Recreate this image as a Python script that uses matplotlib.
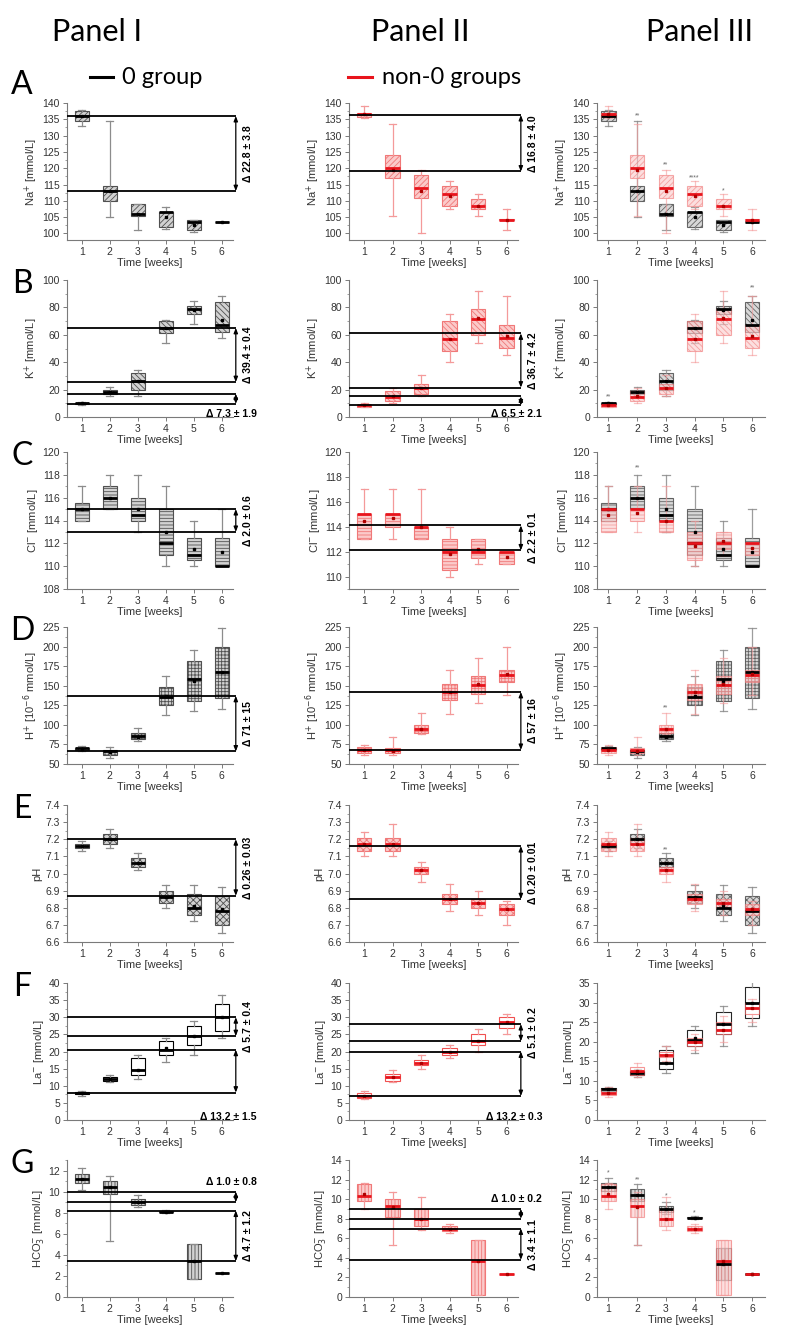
import matplotlib.pyplot as plt
from matplotlib.ticker import MultipleLocator, AutoMinorLocator

plt.rcParams['font.family'] = ['Liberation Sans', 'DejaVu Sans']
plt.rcParams['hatch.linewidth'] = 0.6

weeks = [1, 2, 3, 4, 5, 6]

# every box: (whislo, q1, median, q3, whishi, mean)
na_zero = [(133, 134.5, 136, 137.5, 138, 136), (105, 110, 113, 114.5, 134.5, 113),
           (101, 105.5, 106, 109, 109, 106), (101.5, 102, 106.5, 106.5, 108, 105),
           (100.5, 101, 103.5, 104, 104, 102.5), (103.5, 103.5, 103.5, 103.5, 103.5, 103.5)]
na_non0 = [(135.5, 135.8, 136.5, 137, 139, 136.5), (105.5, 117, 120, 124, 133.5, 119.5),
           (100, 111, 114, 118, 119.5, 113), (107.5, 108.5, 112, 114.5, 116, 111.5),
           (105.5, 107.5, 108.5, 110.5, 112, 108.5), (101, 104, 104, 104.3, 107.5, 104)]
k_zero = [(9, 9.5, 10, 10.5, 11, 10), (15, 17, 18, 20, 22, 18), (15, 20, 26, 32, 34, 26),
          (54, 61, 65, 70, 71, 65), (68, 75, 79, 81, 85, 78), (58, 62, 67, 84, 88, 71)]
k_non0 = [(7, 7.5, 8.5, 9, 10, 8.5), (10, 12, 14.5, 19, 21, 15), (15, 17, 21, 24, 31, 21),
          (40, 48.5, 57, 70, 75, 57), (54, 60, 71.5, 79, 92, 72), (45, 50.5, 58, 67, 88, 59)]
cl_zero = [(114, 114, 115, 115.5, 117, 115), (115, 115, 116, 117, 118, 116),
           (113, 114, 114.5, 116, 118, 115), (110, 111, 112, 115, 117, 113),
           (110, 110.5, 111, 112.5, 114, 111.5), (110, 110, 110, 112.5, 115, 111.2)]
cl_non0 = [(113, 113, 115, 115, 117, 114.5), (113, 114, 115, 115, 117, 114.7),
           (113, 113, 114, 114, 117, 114), (110, 110.5, 112, 113, 114, 111.8),
           (111, 111.5, 112, 113, 113, 112.2), (111, 111, 112, 112, 112, 111.6)]
h_zero = [(66, 68, 70, 71, 73, 69), (58, 62, 66, 68, 72, 65), (80, 82, 86, 90, 96, 85),
          (112, 125, 136, 148, 162, 137), (118, 130, 158, 182, 195, 156), (120, 134, 168, 200, 224, 168)]
h_non0 = [(62, 64, 68, 72, 74, 68), (62, 64, 68, 70, 84, 67), (88, 90, 95, 100, 115, 95),
          (114, 132, 142, 152, 170, 142), (128, 140, 151, 162, 186, 152), (138, 155, 164, 170, 200, 165)]
ph_zero = [(7.13, 7.15, 7.16, 7.17, 7.19, 7.16), (7.15, 7.17, 7.2, 7.23, 7.26, 7.2),
           (7.02, 7.04, 7.06, 7.09, 7.12, 7.06), (6.8, 6.83, 6.86, 6.9, 6.93, 6.86),
           (6.72, 6.76, 6.8, 6.88, 6.93, 6.81), (6.65, 6.7, 6.78, 6.87, 6.92, 6.79)]
ph_non0 = [(7.1, 7.13, 7.17, 7.21, 7.24, 7.17), (7.1, 7.13, 7.17, 7.21, 7.29, 7.17),
           (6.95, 7.0, 7.02, 7.04, 7.07, 7.02), (6.78, 6.82, 6.85, 6.88, 6.94, 6.85),
           (6.76, 6.8, 6.83, 6.85, 6.9, 6.83), (6.7, 6.76, 6.79, 6.82, 6.84, 6.79)]
la_zero = [(7, 7.5, 8, 8.3, 8.5, 8), (11, 11.5, 12, 12.5, 13, 12), (12, 13, 14.5, 18, 19, 14.5),
           (17, 19, 20.5, 23, 24, 21), (19, 22, 24.5, 27.5, 29, 24.5), (24, 26, 30, 34, 36.5, 30)]
la_non0 = [(6, 6.5, 7, 8, 8.5, 7), (11, 11.5, 12.5, 13.5, 14.5, 12.5), (15, 16, 16.5, 17.5, 19, 16.5),
           (18, 19, 20, 21, 22, 20), (20, 22, 23, 25, 26.5, 23), (25, 27, 28.5, 30, 31, 28.5)]
hco3_zero = [(10.2, 10.8, 11.2, 11.7, 12.2, 11.2), (5.3, 9.8, 10.4, 11, 11.5, 10.4),
             (8.5, 8.7, 9, 9.3, 9.7, 9), (8, 8.05, 8.1, 8.2, 8.3, 8.1),
             (1.7, 1.7, 3.4, 5, 5, 3.4), (2.3, 2.3, 2.3, 2.3, 2.3, 2.3)]
hco3_non0 = [(9, 9.8, 10.3, 11.5, 11.7, 10.5), (5.3, 8.2, 9.3, 10, 10.7, 9.2),
             (6.8, 7.3, 8, 9, 10.2, 8), (6.5, 6.7, 7, 7.3, 7.5, 7),
             (0.2, 0.2, 3.7, 5.8, 5.8, 3.7), (2.3, 2.3, 2.3, 2.3, 2.3, 2.3)]

# group differences: (upper level, lower level, label)
na_delta_0 = [(136, 113, 'Δ 22.8 ± 3.8')]
na_delta_n = [(136.3, 119, 'Δ 16.8 ± 4.0')]
k_delta_0 = [(65, 25.5, 'Δ 39.4 ± 0.4'), (17, 9.6, 'Δ 7.3 ± 1.9')]
k_delta_n = [(61, 21.5, 'Δ 36.7 ± 4.2'), (15, 8.5, 'Δ 6.5 ± 2.1')]
cl_delta_0 = [(115, 113, 'Δ 2.0 ± 0.6')]
cl_delta_n = [(114.1, 112.1, 'Δ 2.2 ± 0.1')]
h_delta_0 = [(137, 66, 'Δ 71 ± 15')]
h_delta_n = [(142, 68, 'Δ 57 ± 16')]
ph_delta_0 = [(7.2, 6.87, 'Δ 0.26 ± 0.03')]
ph_delta_n = [(7.16, 6.85, 'Δ 0.20 ± 0.01')]
la_delta_0 = [(30, 24.5, 'Δ 5.7 ± 0.4'), (20.5, 8, 'Δ 13.2 ± 1.5')]
la_delta_n = [(28, 23, 'Δ 5.1 ± 0.2'), (20, 7, 'Δ 13.2 ± 0.3')]
hco3_delta_0 = [(10, 9, 'Δ 1.0 ± 0.8'), (8.2, 3.4, 'Δ 4.7 ± 1.2')]
hco3_delta_n = [(9, 8, 'Δ 1.0 ± 0.2'), (7, 3.8, 'Δ 3.4 ± 1.1')]

# significance marks in panel III: (week, level, mark)
na_stars = [(2, 136, '**'), (3, 121, '**'), (4, 117, '****'), (5, 113, '*')]
k_stars = [(1, 15, '**'), (6, 94, '**')]
cl_stars = [(2, 118.6, '**')]
h_stars = [(3, 122, '**')]
ph_stars = [(3, 7.14, '**')]
la_stars = []
hco3_stars = [(1, 12.7, '*'), (2, 12.0, '**'), (3, 10.3, '*'), (4, 8.6, '*')]

panel_titles = ['Panel I', 'Panel II', 'Panel III']
row_letters = ['A', 'B', 'C', 'D', 'E', 'F', 'G']

rows = [
    dict(ylabel='Na$^{+}$ [mmol/L]', lims=[(98, 140)] * 3, step=5, hatch='//////',
         zero=na_zero, non0=na_non0, d0=na_delta_0, dn=na_delta_n, stars=na_stars, modes=['v']),
    dict(ylabel='K$^{+}$ [mmol/L]', lims=[(0, 100)] * 3, step=20, hatch='\\\\\\\\\\\\',
         zero=k_zero, non0=k_non0, d0=k_delta_0, dn=k_delta_n, stars=k_stars, modes=['v', 'hb']),
    dict(ylabel='Cl$^{-}$ [mmol/L]', lims=[(108, 120), (109, 120), (108, 120)], step=2, hatch='-----',
         zero=cl_zero, non0=cl_non0, d0=cl_delta_0, dn=cl_delta_n, stars=cl_stars, modes=['v']),
    dict(ylabel='H$^{+}$ [10$^{-6}$ mmol/L]', lims=[(50, 225)] * 3, step=25, hatch='+++++',
         zero=h_zero, non0=h_non0, d0=h_delta_0, dn=h_delta_n, stars=h_stars, modes=['v']),
    dict(ylabel='pH', lims=[(6.6, 7.4)] * 3, step=0.1, hatch='xxxxx',
         zero=ph_zero, non0=ph_non0, d0=ph_delta_0, dn=ph_delta_n, stars=ph_stars, modes=['v']),
    dict(ylabel='La$^{-}$ [mmol/L]', lims=[(0, 40), (0, 40), (0, 35)], step=5, hatch=None,
         zero=la_zero, non0=la_non0, d0=la_delta_0, dn=la_delta_n, stars=la_stars, modes=['v', 'hb']),
    dict(ylabel='HCO$_3^{-}$ [mmol/L]', lims=[(0, 13), (0, 14), (0, 14)], step=2, hatch='|||||',
         zero=hco3_zero, non0=hco3_non0, d0=hco3_delta_0, dn=hco3_delta_n, stars=hco3_stars, modes=['ht', 'v']),
]

W, H = 793, 1336
col_left = [67, 349, 597]
col_w = [166, 169, 168]
row_top = [103, 280, 452, 627, 805, 983, 1160]
ax_h = 137
xlims = [(0.47, 6.4), (0.47, 6.4), (0.6, 6.45)]

fig = plt.figure(figsize=(W / 100, H / 100), dpi=100)


def to_stats(data):
    return [dict(whislo=d[0], q1=d[1], med=d[2], q3=d[3], whishi=d[4], mean=d[5], fliers=[]) for d in data]


def draw_boxes(ax, data, group, hatch, alpha=1.0):
    if group == 'zero':
        face, edge, wcol, med, mean = '#d2d2d2', '#505050', '#8c8c8c', 'black', 'black'
    else:
        face, edge, wcol, med, mean = '#fbcaca', '#f07878', '#f49a9a', '#e8141c', '#b00000'
    if hatch is None:
        face = 'white'
        edge = 'black' if group == 'zero' else '#f05050'
    ax.bxp(to_stats(data), positions=weeks, widths=0.5, patch_artist=True, showmeans=True,
           showfliers=False, manage_ticks=False,
           boxprops=dict(facecolor=face, edgecolor=edge, hatch=hatch, lw=0.8, alpha=alpha),
           whiskerprops=dict(color=wcol, lw=0.9, alpha=alpha),
           capprops=dict(color=wcol, lw=0.9, alpha=alpha),
           medianprops=dict(color=med, lw=2.0, solid_capstyle='butt'),
           meanprops=dict(marker='s', ms=2, mfc=mean, mec=mean))


def draw_delta(ax, deltas, modes, xl, lim):
    x_end = 6.5
    span = lim[1] - lim[0]
    for i, (top, bot, label) in enumerate(deltas):
        mode = modes[i] if i < len(modes) else 'v'
        ax.hlines([top, bot], xl, x_end, color='black', lw=1.3, clip_on=False, zorder=5)
        ax.annotate('', xy=(x_end, bot), xytext=(x_end, top), annotation_clip=False,
                    arrowprops=dict(arrowstyle='<|-|>,head_length=0.3,head_width=0.12', lw=0.9,
                                    color='black', shrinkA=0, shrinkB=0), zorder=6)
        if mode == 'v':
            ax.text(x_end + 0.42, (top + bot) / 2, label, rotation=90, ha='center', va='center',
                    fontsize=7.5, weight='bold', clip_on=False)
        elif mode == 'hb':
            ax.text(7.25, lim[0] + 0.025 * span, label, ha='right', va='center',
                    fontsize=7.5, weight='bold', clip_on=False)
        else:
            ax.text(7.25, top + 0.07 * span, label, ha='right', va='center',
                    fontsize=7.5, weight='bold', clip_on=False)


for r, row in enumerate(rows):
    for c in range(3):
        ax = fig.add_axes([col_left[c] / W, 1 - (row_top[r] + ax_h) / H, col_w[c] / W, ax_h / H])
        lim = row['lims'][c]
        ax.set_xlim(*xlims[c])
        ax.set_ylim(*lim)
        ax.yaxis.set_major_locator(MultipleLocator(row['step']))
        ax.yaxis.set_minor_locator(AutoMinorLocator(2))
        ax.set_xticks(weeks)
        for s in ['top', 'right']:
            ax.spines[s].set_visible(False)
        for s in ['left', 'bottom']:
            ax.spines[s].set_color('#7a7a7a')
            ax.spines[s].set_linewidth(0.8)
        ax.tick_params(labelsize=7.5, colors='#7a7a7a', labelcolor='#333333', length=3, width=0.7, pad=2)
        ax.tick_params(which='minor', length=1.5, width=0.5, colors='#7a7a7a')
        ax.set_xlabel('Time [weeks]', fontsize=8, labelpad=1, color='#333333')
        ax.set_ylabel(row['ylabel'], fontsize=8, labelpad=2, color='#333333')
        if row['step'] < 1:
            ax.yaxis.set_major_formatter(plt.FormatStrFormatter('%.1f'))

        if c == 0:
            draw_boxes(ax, row['zero'], 'zero', row['hatch'])
            draw_delta(ax, row['d0'], row['modes'], xlims[c][0], lim)
        elif c == 1:
            draw_boxes(ax, row['non0'], 'non0', row['hatch'])
            draw_delta(ax, row['dn'], row['modes'], xlims[c][0], lim)
        else:
            draw_boxes(ax, row['zero'], 'zero', row['hatch'], alpha=0.85)
            draw_boxes(ax, row['non0'], 'non0', row['hatch'], alpha=0.6)
            for wk, yv, mark in row['stars']:
                ax.text(wk, yv, mark, ha='center', va='center', fontsize=5, color='#666666')

    ty = row_top[r] + 4 if r > 0 else 85
    fig.text(22 / W, 1 - ty / H, row_letters[r], fontsize=23, family='Lato', ha='center', va='center')

for c, t in enumerate(panel_titles):
    fig.text([97, 420, 700][c] / W, 1 - 32 / H, t, fontsize=22, family='Lato', ha='center', va='center')

# legend above row A
fig.add_artist(plt.Line2D([90 / W, 113 / W], [1 - 77 / H] * 2, color='black', lw=2.2))
fig.text(122 / W, 1 - 77 / H, '0 group', fontsize=17, family='Lato', va='center')
fig.add_artist(plt.Line2D([348 / W, 372 / W], [1 - 77 / H] * 2, color='#e8141c', lw=2.2))
fig.text(382 / W, 1 - 77 / H, 'non-0 groups', fontsize=17, family='Lato', va='center')

fig.savefig('out.png', dpi=100)
